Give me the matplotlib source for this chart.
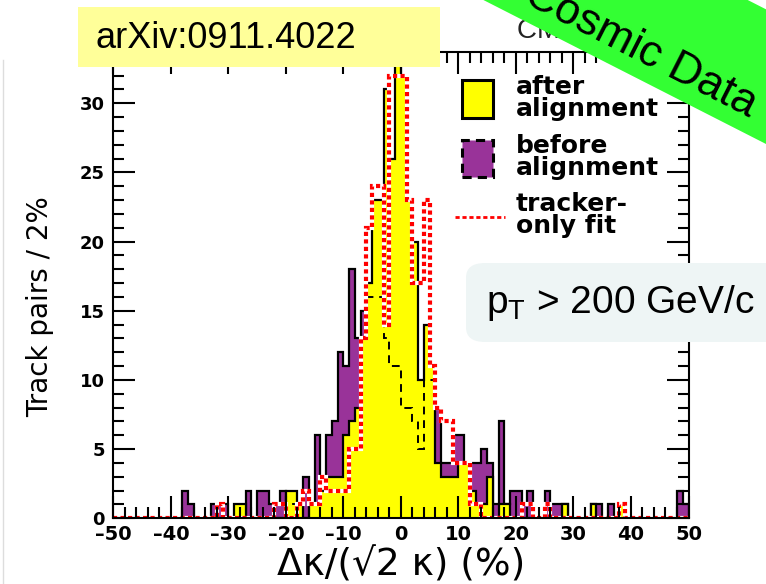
import matplotlib.pyplot as plt
import matplotlib.patches as mpatches
import matplotlib.transforms as mtrans
from matplotlib.ticker import MultipleLocator, FuncFormatter
import numpy as np

# 1% bins from -50 to 50
edges = np.arange(-50, 51, 1)

# lower bin edge -> track pairs (bins not listed are empty)
after_pts = {-29: 1, -28: 1, -20: 2, -19: 2, -18: 1, -16: 1, -15: 1, -14: 2, -13: 3,
             -12: 3, -11: 3, -10: 6, -9: 7, -8: 8, -7: 13, -6: 17, -5: 23, -4: 23,
             -3: 31, -2: 26, -1: 33, 0: 32, 1: 23, 2: 20, 3: 10, 4: 14, 5: 11, 6: 4,
             7: 3, 8: 3, 9: 3, 10: 4, 11: 4, 12: 2, 13: 1, 14: 1, 15: 3, 17: 1, 18: 1,
             28: 1, 33: 1, 38: 1}
before_pts = {-38: 2, -37: 1, -33: 1, -32: 1, -31: 1, -27: 2, -25: 2, -24: 2, -23: 1,
              -22: 1, -21: 2, -20: 1, -19: 1, -18: 1, -17: 3, -16: 1, -15: 6, -14: 2,
              -13: 6, -12: 7, -11: 12, -10: 11, -9: 18, -8: 13, -7: 15, -6: 16, -5: 16,
              -4: 16, -3: 13, -2: 11, -1: 11, 0: 8, 1: 8, 2: 7, 3: 5, 4: 10, 5: 10, 6: 8,
              7: 4, 8: 4, 9: 6, 10: 6, 11: 4, 12: 4, 13: 4, 14: 5, 15: 4, 16: 1, 17: 7,
              18: 1, 19: 2, 20: 2, 21: 1, 22: 2, 25: 2, 26: 1, 27: 1, 28: 1, 33: 1,
              34: 1, 36: 1, 48: 2, 49: 1}
tracker_pts = {-32: 1, -22: 1, -21: 1, -18: 1, -17: 2, -16: 1, -15: 1, -14: 3, -13: 2,
               -12: 2, -11: 2, -10: 2, -9: 5, -8: 5, -7: 13, -6: 21, -5: 24, -4: 24,
               -3: 14, -2: 32, -1: 32, 0: 32, 1: 23, 2: 17, 3: 17, 4: 23, 5: 11, 6: 8,
               7: 7, 8: 7, 9: 4, 10: 4, 11: 4, 12: 1, 13: 1, 21: 1, 22: 1, 25: 1, 38: 1}


def to_counts(pts):
    c = np.zeros(len(edges) - 1)
    for k, v in pts.items():
        c[k + 50] = v
    return c


after = to_counts(after_pts)
before = to_counts(before_pts)
tracker = to_counts(tracker_pts)

W, H = 766, 584
fig = plt.figure(figsize=(W / 100, H / 100), dpi=100)
ax = fig.add_axes([113.3 / W, 1 - 518.3 / H, (688.5 - 113.3) / W, (518.3 - 52) / H])

purple = "#993399"
yellow = "#ffff00"
ax.stairs(before, edges, fill=True, facecolor=purple, edgecolor="none")
ax.stairs(before, edges, color="black", lw=1.6)
ax.stairs(after, edges, fill=True, facecolor=yellow, edgecolor="none")
ax.stairs(after, edges, color="black", lw=1.6)
ax.stairs(before, edges, color="black", lw=1.4, ls=(0, (4, 3)))
ax.stairs(tracker, edges, color="white", lw=3)
ax.stairs(tracker, edges, color="red", lw=3, ls=(0, (1, 0.8)))

ax.set_xlim(-50, 50)
ax.set_ylim(0, 33.7)
ax.xaxis.set_major_locator(MultipleLocator(10))
ax.xaxis.set_minor_locator(MultipleLocator(2))
ax.yaxis.set_major_locator(MultipleLocator(5))
ax.yaxis.set_minor_locator(MultipleLocator(1))
ax.tick_params(which="both", direction="in", top=True, right=True, width=1.5)
ax.tick_params(which="major", length=16)
ax.tick_params(which="minor", length=8)
ax.tick_params(axis="y", pad=6)
ax.tick_params(axis="x", pad=5)
ax.xaxis.set_major_formatter(FuncFormatter(lambda v, p: ("%d" % v).replace("-", "\u2013")))
for lab in ax.get_xticklabels():
    lab.set_fontweight("bold")
    lab.set_fontsize(14)
for lab in ax.get_yticklabels():
    lab.set_fontweight("bold")
    lab.set_fontsize(13)
for s in ax.spines.values():
    s.set_linewidth(1.5)


def fx(x):
    return x / W


def fy(y):
    return 1 - y / H


fig.text(fx(40), fy(307), "Track pairs / 2%", fontsize=20, rotation=90, ha="center", va="center")
fig.text(fx(401), fy(565), "\u0394\u03ba/(\u221a2 \u03ba) (%)", fontsize=27, ha="center", va="center")

# legend drawn by hand in figure pixels
fig.patches.append(mpatches.Rectangle((fx(462), fy(118)), 31 / W, 38 / H, transform=fig.transFigure,
                                      facecolor=yellow, edgecolor="black", lw=2.2, zorder=5))
fig.patches.append(mpatches.Rectangle((fx(462), fy(177)), 31 / W, 37 / H, transform=fig.transFigure,
                                      facecolor=purple, edgecolor="black", lw=2.2, ls=(0, (3, 2)), zorder=5))
fig.lines.append(plt.Line2D([fx(455), fx(505)], [fy(217), fy(217)], transform=fig.transFigure,
                            color="red", lw=2, ls=(0, (1.5, 1)), zorder=5))
for txt, y in [("after\nalignment", 98), ("before\nalignment", 157), ("tracker-\nonly fit", 215)]:
    fig.text(fx(516), fy(y), txt, fontsize=18, fontweight="bold", family="DejaVu Sans",
             va="center", ha="left", linespacing=0.85, zorder=6)

# CMS label partly hidden behind banner
fig.text(fx(517), fy(31), "CMS 2008", fontsize=20, family="Liberation Sans", va="center", color="#222222")

# green banner
ang = -27
cx, cy = 641, 50
banner = mpatches.Rectangle((-230, -27), 490, 120, facecolor="#33ff33", edgecolor="none")
banner.set_transform(mtrans.Affine2D().rotate_deg(ang).translate(cx, H - cy))
banner.set_zorder(10)
fig.patches.append(banner)
fig.text(fx(cx), fy(cy), "Cosmic Data", fontsize=32, family="Liberation Sans", rotation=ang,
         rotation_mode="anchor", ha="center", va="center", zorder=11)

# arXiv box
fig.patches.append(mpatches.Rectangle((fx(78), fy(67)), (440 - 78) / W, 60 / H, transform=fig.transFigure,
                                      facecolor="#ffff99", edgecolor="none", zorder=10))
fig.text(fx(96), fy(38), "arXiv:0911.4022", fontsize=26, family="Liberation Sans", va="center", zorder=11)

# pT box
fig.patches.append(mpatches.FancyBboxPatch((fx(466), fy(342)), (800 - 466) / W, 79 / H,
                                           boxstyle="round,pad=0,rounding_size=0.025",
                                           transform=fig.transFigure, facecolor="#eef5f5",
                                           edgecolor="none", zorder=8))
fig.text(fx(486), fy(303), r"p$_\mathregular{T}$ > 200 GeV/c", fontsize=28, family="Liberation Sans",
         va="center", zorder=9)

fig.lines.append(plt.Line2D([fx(3), fx(3)], [0, fy(60)], transform=fig.transFigure, color="#dddddd", lw=1))

fig.savefig("out.png", dpi=100)
